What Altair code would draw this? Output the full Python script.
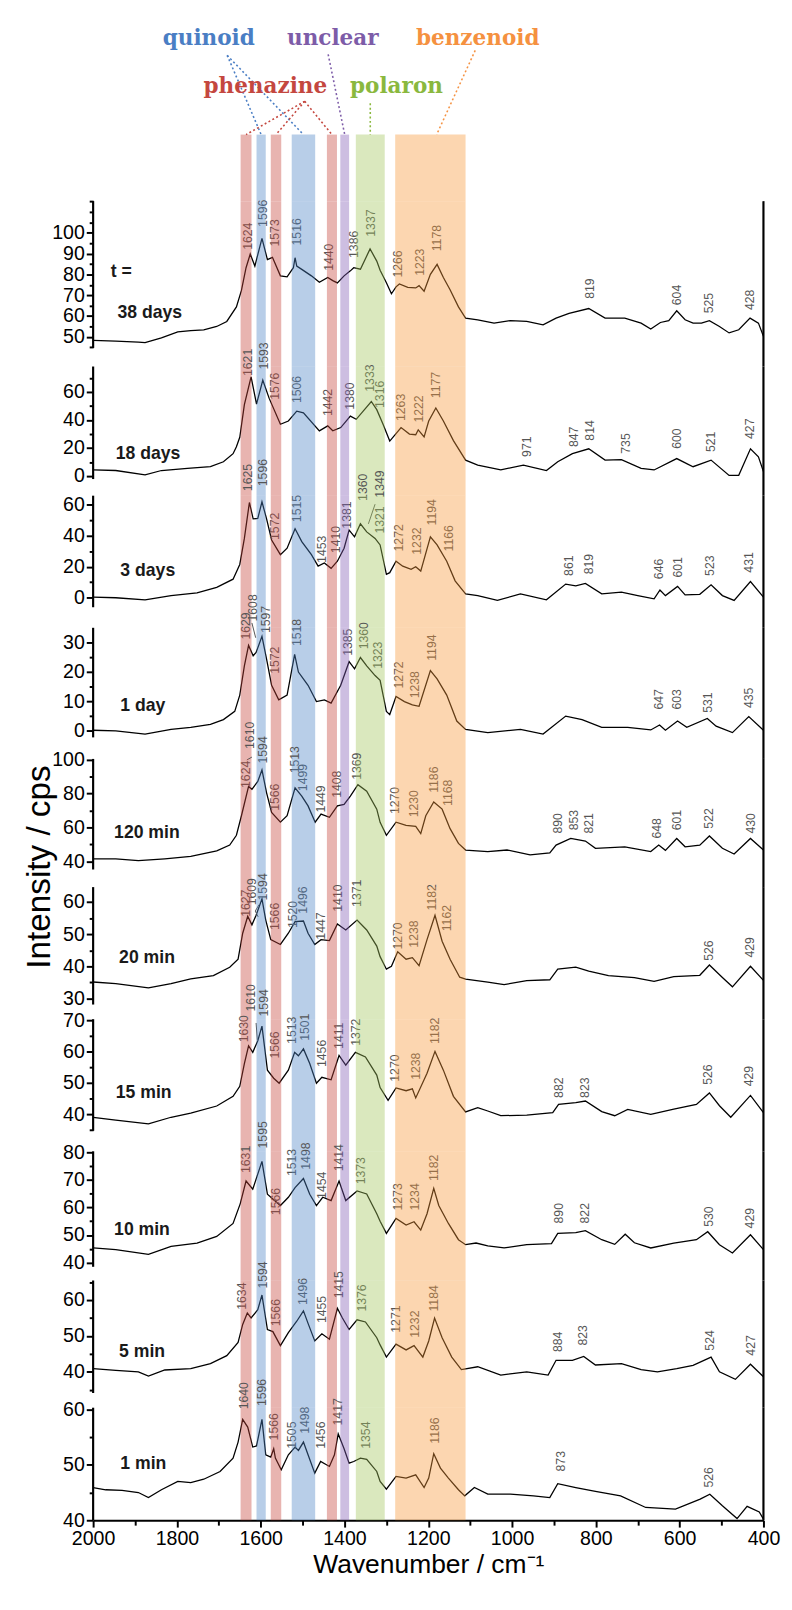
import altair as alt
import pandas as pd

# ------------------------------------------------------------------ data
panel_names = ["38 days", "18 days", "3 days", "1 day", "120 min",
               "20 min", "15 min", "10 min", "5 min", "1 min"]
name_x = [1942, 1946, 1935, 1935, 1950, 1938, 1946, 1950, 1938, 1935]
name_y = [61.3, 16, 17.2, 8.3, 56.4, 42.7, 46.8, 51.9, 45.5, 50.1]

# colour bands (cm-1)
band_lo = [1622, 1588, 1551, 1470, 1418, 1389, 1304, 1111]
band_hi = [1648, 1610, 1576, 1526, 1442, 1410, 1373, 1279]
band_kind = ["phenazine", "quinoid", "phenazine", "quinoid", "phenazine",
             "unclear", "polaron", "benzenoid"]

# category labels above the bands (y in annotation units above panel 1)
cat_text = ["quinoid", "unclear", "benzenoid", "phenazine", "polaron"]
cat_x = [1724, 1428, 1082, 1589, 1276]
cat_y = [167, 167, 167, 118, 118]
lead_kind = ["quinoid", "quinoid", "phenazine", "phenazine", "phenazine",
             "unclear", "polaron", "benzenoid"]
lead_x1 = [1680, 1680, 1495, 1495, 1495, 1439, 1338.5, 1088]
lead_y1 = [149, 149, 102, 102, 102, 150, 100, 154]
lead_x2 = [1599, 1498, 1635, 1563.5, 1430, 1399.5, 1338.5, 1180]
lead_y2 = [68, 68, 68, 68, 68, 68, 68, 68]
band_top = 68

# y-axis labelled range per panel
lab_min = [50, 0, 0, 0, 40, 30, 40, 40, 40, 40]
lab_max = [100, 60, 60, 30, 100, 60, 70, 80, 60, 60]

spec_38d = [(2000,48.3),(1946,48.0),(1892,47.5),(1876,47.2),(1837,49.5),(1798,52.4),(1767,53.0),(1736,53.4),(1705,55.0),(1681,57.4),(1658,64.4),(1646,72.3),(1635,83.2),(1625,89.8),(1614,84.0),(1597,97.3),(1584,87.1),(1572,88.2),(1553,79.3),(1537,78.8),(1522,83.2),(1518,88.0),(1514,84.0),(1502,82.4),(1479,79.3),(1460,76.2),(1440,78.5),(1428,77.0),(1417,75.9),(1401,79.3),(1386,81.7),(1378,83.2),(1362,82.5),(1339,92.2),(1323,86.4),(1315,82.0),(1300,76.0),(1288,70.7),(1277,74.0),(1269,75.4),(1249,73.8),(1230,73.5),(1222,74.6),(1210,71.9),(1195,80.0),(1179,84.8),(1164,78.5),(1148,72.6),(1128,64.4),(1111,59.0),(1082,58.2),(1043,56.6),(1004,57.8),(965,57.4),(926,55.8),(895,59.0),(864,61.3),(817,63.6),(778,59.0),(731,59.0),(692,56.6),(669,53.8),(646,56.9),(626,57.8),(607,62.5),(587,58.2),(568,56.6),(548,56.6),(529,57.8),(505,55.0),(482,51.9),(459,53.4),(432,59.0),(412,56.6),(400,50.3)]
spec_18d = [(2000,4.4),(1946,4.0),(1876,0.9),(1837,4.0),(1775,5.6),(1720,6.8),(1689,10.2),(1666,16.0),(1658,21.0),(1650,27.7),(1639,50.9),(1623,70.7),(1610,51.4),(1595,68.4),(1580,55.6),(1553,37.0),(1534,39.3),(1514,46.3),(1498,45.1),(1460,32.3),(1440,35.8),(1428,32.3),(1409,34.6),(1386,42.8),(1372,40.5),(1336,53.2),(1323,47.4),(1308,37.0),(1292,25.0),(1265,34.6),(1245,30.0),(1230,29.5),(1224,33.0),(1210,28.0),(1199,39.3),(1182,48.6),(1164,39.3),(1140,25.3),(1111,11.4),(1082,7.9),(1027,4.4),(973,7.9),(918,4.0),(891,10.2),(856,16.0),(817,19.5),(778,11.4),(739,11.7),(692,5.6),(661,4.4),(607,12.5),(568,6.7),(525,11.4),(482,0.5),(459,0.6),(431,19.5),(412,13.7),(400,3.3)]
spec_3d = [(2000,0.4),(1946,0.0),(1876,-1.3),(1814,1.4),(1752,3.1),(1705,6.7),(1666,12.0),(1650,21.5),(1639,38.3),(1627,61.5),(1618,50.9),(1607,51.2),(1597,61.9),(1586,50.9),(1574,37.3),(1553,27.8),(1537,32.0),(1518,44.6),(1502,36.2),(1479,27.8),(1463,20.4),(1448,22.5),(1432,19.0),(1417,23.6),(1401,32.0),(1389,43.6),(1376,39.3),(1362,47.7),(1347,42.5),(1327,38.3),(1315,34.1),(1300,15.1),(1292,16.2),(1277,23.6),(1261,20.4),(1241,18.3),(1230,20.0),(1218,17.2),(1195,39.3),(1179,34.1),(1156,23.6),(1136,10.9),(1111,2.5),(1082,1.4),(1035,-1.7),(980,2.5),(918,-1.3),(872,8.8),(848,7.7),(825,9.3),(786,2.5),(739,3.6),(700,1.4),(661,-0.7),(647,5.0),(634,1.4),(605,7.3),(587,1.8),(552,2.2),(525,8.4),(498,1.4),(470,-1.7),(431,10.5),(400,0.4)]
spec_1d = [(2000,0.2),(1946,0.0),(1876,-1.1),(1814,0.5),(1767,1.2),(1720,2.2),(1689,3.8),(1662,6.6),(1650,12.1),(1639,22.0),(1629,28.9),(1618,25.4),(1611,26.5),(1597,32.0),(1586,24.3),(1574,15.4),(1557,10.5),(1537,12.1),(1519,25.9),(1510,19.9),(1487,15.4),(1467,9.9),(1448,10.5),(1432,9.4),(1409,15.4),(1389,23.4),(1376,21.0),(1362,24.8),(1347,22.0),(1327,18.7),(1315,17.1),(1300,6.6),(1292,5.5),(1277,11.6),(1257,9.9),(1238,8.8),(1222,8.3),(1195,20.4),(1179,17.6),(1156,12.1),(1132,3.3),(1111,0.5),(1058,-0.6),(980,0.5),(926,-1.1),(872,5.0),(833,3.8),(786,1.2),(724,1.2),(669,0.3),(648,2.0),(634,0.2),(605,3.3),(583,1.2),(534,4.2),(513,1.6),(474,-0.6),(435,4.8),(400,0.2)]
spec_120m = [(2000,41.5),(1946,41.5),(1892,40.4),(1829,41.5),(1767,42.9),(1705,46.2),(1674,49.6),(1658,55.4),(1646,66.9),(1629,84.2),(1621,82.5),(1607,87.1),(1597,93.9),(1586,80.4),(1574,68.8),(1553,63.1),(1537,66.9),(1518,83.3),(1502,78.5),(1487,72.7),(1470,63.1),(1456,67.9),(1436,66.0),(1417,72.7),(1401,73.6),(1386,78.5),(1368,85.2),(1347,81.4),(1323,70.8),(1315,63.0),(1300,55.4),(1277,63.1),(1253,61.2),(1230,60.6),(1218,56.4),(1206,66.9),(1187,75.0),(1167,70.8),(1148,59.3),(1128,50.6),(1111,46.7),(1058,45.8),(1012,46.7),(957,43.9),(910,45.0),(895,49.6),(860,53.5),(825,52.0),(801,47.7),(731,48.6),(669,45.8),(650,49.6),(634,46.5),(607,53.5),(587,48.6),(552,49.6),(529,55.0),(498,47.7),(470,44.3),(431,53.5),(400,46.7)]
spec_20m = [(2000,35.1),(1946,34.6),(1868,33.3),(1814,34.6),(1767,36.1),(1713,37.1),(1674,39.7),(1654,42.2),(1643,50.3),(1631,55.6),(1621,52.9),(1611,55.9),(1597,61.0),(1588,54.4),(1576,48.3),(1553,46.8),(1534,50.3),(1518,53.9),(1498,54.1),(1487,50.3),(1471,46.8),(1456,48.3),(1436,48.0),(1417,53.2),(1397,51.3),(1370,54.4),(1347,51.3),(1323,46.3),(1315,43.0),(1300,39.1),(1288,40.0),(1273,44.5),(1253,42.2),(1238,42.7),(1222,40.2),(1203,48.3),(1184,55.9),(1167,47.8),(1148,42.2),(1125,36.6),(1111,36.0),(1058,35.1),(1019,34.3),(965,35.5),(910,35.8),(891,39.1),(848,39.7),(817,38.5),(770,37.1),(708,36.5),(661,35.3),(614,36.8),(552,37.2),(529,40.4),(498,36.5),(474,33.6),(431,40.0),(400,35.6)]
spec_15m = [(2000,39.0),(1946,38.1),(1868,36.9),(1814,39.0),(1767,40.3),(1705,42.6),(1666,45.7),(1650,48.9),(1639,56.2),(1629,61.9),(1619,59.8),(1607,63.5),(1597,68.2),(1584,54.1),(1569,51.5),(1556,49.9),(1534,54.1),(1519,59.8),(1510,58.7),(1498,60.9),(1483,56.2),(1467,49.9),(1454,51.8),(1432,51.0),(1413,58.8),(1397,55.7),(1374,59.8),(1350,58.3),(1323,52.5),(1315,48.5),(1296,44.4),(1277,48.4),(1253,47.5),(1238,48.1),(1230,45.2),(1203,53.1),(1184,60.1),(1164,54.1),(1140,45.7),(1111,40.7),(1082,42.1),(1058,41.0),(1027,39.5),(965,39.7),(903,40.5),(889,43.1),(848,43.7),(825,44.2),(786,40.8),(755,39.5),(724,41.5),(669,39.9),(614,41.6),(560,43.1),(529,46.8),(505,42.7),(478,39.0),(431,46.0),(400,40.5)]
spec_10m = [(2000,45.3),(1946,44.7),(1868,43.0),(1814,45.9),(1752,47.1),(1705,49.5),(1666,54.2),(1649,61.3),(1635,69.6),(1619,66.6),(1597,76.7),(1584,64.8),(1571,63.1),(1553,60.7),(1534,63.7),(1518,67.2),(1498,70.5),(1483,64.8),(1467,60.7),(1452,63.7),(1432,62.5),(1413,69.6),(1397,62.5),(1370,66.0),(1347,64.9),(1323,57.7),(1315,55.0),(1300,50.6),(1277,56.0),(1253,53.6),(1234,54.8),(1218,51.8),(1203,57.7),(1187,66.9),(1175,60.7),(1152,54.2),(1128,48.3),(1111,46.5),(1086,47.1),(1058,46.1),(1019,45.3),(965,46.5),(906,46.9),(891,50.6),(848,50.9),(825,51.6),(786,48.3),(755,46.6),(730,50.3),(708,47.2),(669,45.3),(614,47.1),(560,48.3),(533,51.2),(505,46.5),(474,43.5),(431,50.1),(400,44.7)]
spec_5m = [(2000,40.9),(1946,40.4),(1892,40.0),(1868,38.8),(1829,40.5),(1767,40.9),(1720,42.3),(1681,44.5),(1654,48.2),(1643,53.2),(1632,56.4),(1623,55.0),(1607,57.3),(1597,61.4),(1584,51.8),(1571,51.2),(1553,47.3),(1534,50.9),(1514,54.1),(1498,57.0),(1487,53.5),(1471,48.6),(1454,50.6),(1436,49.1),(1417,57.7),(1405,55.0),(1389,51.8),(1370,54.5),(1350,53.9),(1323,49.5),(1315,47.5),(1300,44.1),(1277,47.7),(1253,46.1),(1234,47.3),(1213,44.1),(1199,48.6),(1185,55.0),(1167,49.5),(1144,44.1),(1121,40.6),(1082,41.4),(1027,39.1),(965,40.0),(914,39.1),(895,43.2),(856,43.2),(829,44.3),(801,41.9),(739,42.3),(692,40.6),(653,40.0),(607,40.9),(568,41.8),(525,44.1),(505,40.0),(467,37.9),(431,42.1),(400,38.6)]
spec_1m = [(2000,45.9),(1970,45.5),(1931,45.4),(1892,45.0),(1868,44.1),(1837,45.5),(1798,47.0),(1767,46.8),(1736,47.4),(1697,48.8),(1666,51.2),(1654,54.1),(1643,58.2),(1631,56.8),(1619,53.2),(1610,53.4),(1597,58.2),(1588,51.8),(1576,51.4),(1569,52.9),(1565,51.2),(1551,49.1),(1534,51.8),(1518,53.2),(1510,52.6),(1498,54.1),(1487,51.8),(1471,48.5),(1457,50.6),(1436,49.7),(1424,51.8),(1415,55.6),(1401,52.9),(1389,50.3),(1378,50.6),(1362,51.2),(1347,51.0),(1323,48.8),(1315,47.0),(1300,45.6),(1277,47.9),(1253,47.6),(1230,48.2),(1210,45.9),(1199,47.6),(1187,52.0),(1171,49.4),(1152,47.6),(1128,45.5),(1113,44.4),(1090,45.9),(1058,44.7),(1004,44.7),(949,44.4),(910,44.1),(891,46.6),(848,45.9),(801,45.2),(741,44.4),(681,42.3),(610,42.0),(551,43.8),(528,44.7),(498,42.6),(463,40.3),(439,42.5),(410,41.5),(400,40.2)]

# peak labels: (text, x position cm-1, y of label start)
peaks_38d = [("1624",1631,91.8),("1596",1593.5,102.8),("1573",1565,93.4),("1516",1514,93.9),("1440",1436,81.7),("1386",1376,87.9),("1337",1337,98.1),("1266",1273,78.5),("1223",1220,79.3),("1178",1179,91.1),("819",813,68.3),("604",605,65.2),("525",529,61.3),("428",431.5,62.9)]
peaks_18d = [("1621",1631,71.4),("1593",1592,76),("1576",1565,54.4),("1506",1512,52.1),("1442",1438,42.8),("1380",1386,47.4),("1333",1339,60.2),("1316",1316,48.6),("1263",1265,39.3),("1222",1222,38.2),("1177",1181,55.6),("971",965,13.7),("847",852,20.7),("814",813,25.3),("735",727,16),("600",605,19.5),("521",525,17.2),("427",431.5,26.5)]
peaks_3d = [("1625",1631,68.8),("1596",1593.5,72),("1572",1565,37.3),("1515",1514,48.8),("1453",1454,22.5),("1410",1420.6,28.8),("1381",1393,44.6),("1360",1356,62.5),("1349",1315,64.6),("1321",1315,41.4),("1272",1269,29.9),("1232",1226,27.8),("1194",1191,46.7),("1166",1150,29.9),("861",864,14.1),("819",817,15.1),("646",650,12),("601",603,13),("523",527,14.1),("431",435,16.2)]
peaks_1d = [("1629",1635,30.9),("1608",1618,37),("1597",1588,33.1),("1572",1565,19.3),("1518",1514,28.7),("1385",1392,25.4),("1360",1354,27.6),("1323",1319,21),("1272",1269,14.3),("1238",1231,11),("1194",1191,23.7),("647",650,7.2),("603",605,7.2),("531",533,6.1),("435",435,7.7)]
peaks_120m = [("1624",1636,83.3),("1610",1625,106.3),("1594",1593.5,97.7),("1566",1565,69.8),("1513",1518,91.9),("1499",1498.5,81.4),("1449",1456,68.8),("1408",1417,77.5),("1369",1370,88.1),("1270",1280,67.9),("1230",1234,66),("1186",1187,80.4),("1168",1152,72.7),("890",891,56.4),("853",852,58.3),("821",817,56.4),("648",655,53.5),("601",607,58.3),("522",529,59.3),("430",429,56.4)]
peaks_20m = [("1627",1636,55.4),("1609",1621,59),("1594",1593.5,60.5),("1566",1565,51.3),("1520",1522,51.9),("1496",1498.5,56.4),("1447",1456,48.3),("1410",1415,57),("1371",1370,58.5),("1270",1273,45.2),("1238",1234,45.8),("1182",1191,57.4),("1162",1156,50.9),("526",529,41.7),("429",431.5,42.7)]
peaks_15m = [("1630",1639,63),("1610",1623,72.9),("1594",1592,71.3),("1566",1565,57.8),("1513",1524,62.5),("1501",1493,63.5),("1456",1454,55.1),("1411",1413,60.9),("1372",1372,61.9),("1270",1280,50.4),("1238",1230,51),("1182",1183,62.5),("882",887,45.2),("823",825,45.2),("526",533,49.4),("429",435,48.9)]
peaks_10m = [("1631",1635,72.5),("1595",1593.5,81.4),("1566",1563,57.2),("1513",1524,71.4),("1498",1491,73.7),("1454",1454,63.1),("1414",1413,73.1),("1373",1361,68.4),("1273",1273,58.9),("1234",1231,58.9),("1182",1187,69.6),("890",887,54.2),("822",825,54.2),("530",529,53),("429",431.5,52.4)]
peaks_5m = [("1634",1644,57.3),("1594",1593.5,63.2),("1566",1563,52.7),("1496",1498.5,58.6),("1455",1454,53.6),("1415",1413,60.5),("1376",1358,56.8),("1271",1277,50.9),("1232",1231,49.5),("1184",1185,56.8),("884",891,45.5),("823",831,47.3),("524",527,45.9),("427",429,44.5)]
peaks_1m = [("1640",1639,60),("1596",1596,60.6),("1566",1567,54.4),("1505",1526,52.9),("1498",1493,55.6),("1456",1456,52.9),("1417",1415,57.1),("1354",1348,52.9),("1186",1183,53.8),("873",883,48.8),("526",529,45.9)]

# short connector strokes next to crowded peak labels: (panel, x1, y1, x2, y2)
connectors = [(2, 1343, 47.7, 1327, 60.4),
              (3, 1621, 36.5, 1612, 31.5),
              (4, 1633, 99.8, 1621, 101.5),
              (5, 1604, 59.2, 1613, 57.2), (5, 1613, 57.2, 1606, 55.4),
              (6, 1611, 69.2, 1608, 63.5)]

spectra = [spec_38d, spec_18d, spec_3d, spec_1d, spec_120m,
           spec_20m, spec_15m, spec_10m, spec_5m, spec_1m]
peaks = [peaks_38d, peaks_18d, peaks_3d, peaks_1d, peaks_120m,
         peaks_20m, peaks_15m, peaks_10m, peaks_5m, peaks_1m]

# ------------------------------------------------------------------ layout / style
KINDS = ["phenazine", "quinoid", "unclear", "polaron", "benzenoid"]
BAND_FILL = ["#c5433a", "#4e84c5", "#825cb4", "#a2c55c", "#f8983a"]
CAT_COLOR = ["#c4473f", "#4a7ec4", "#7d5ca8", "#8ab83e", "#f59140"]
SANS = "Liberation Sans"
PLOT_W = 685
SHIFT = 4
SLOT_TOP = [192, 361, 493, 628, 762, 893, 1028, 1163, 1295, 1425]
SLOT_BOT = SLOT_TOP[1:] + [1540]
AXIS_BOT = [342, 476, 607, 740, 875, 1013, 1142, 1281, 1410, 1540]
CAL = [((224.3, 100), (330.7, 50)), ((387, 60), (473, 0)), ((502.3, 60), (597.3, 0)),
       ((642.7, 30), (733.3, 0)), ((762.7, 100), (866.7, 40)), ((908.3, 60), (1006.7, 30)),
       ((1029.3, 70), (1125, 40)), ((1164, 80), (1276.7, 40)), ((1315, 60), (1388.3, 40)),
       ((1426.7, 60), (1540, 40))]
MAJOR = [10, 20, 20, 10, 20, 10, 10, 10, 10, 10]
MINOR = [5, 10, 10, 5, 10, 5, 5, 5, 5, 5]

xscale = alt.Scale(domain=[400, 2000], reverse=True, nice=False, zero=False)
fill_scale = alt.Scale(domain=KINDS, range=BAND_FILL)
col_scale = alt.Scale(domain=KINDS, range=CAT_COLOR)

bands_df = pd.DataFrame({"lo": band_lo, "hi": band_hi, "kind": band_kind,
                         "top": band_top, "bot": 0})

# ---- top annotation chart
TOP_H = SLOT_TOP[0] - 8 - SHIFT
ytop = alt.Scale(domain=[0, TOP_H], nice=False, zero=False)
cat_df = pd.DataFrame({"t": cat_text, "x": cat_x, "y": cat_y})
cat_df["kind"] = cat_df["t"]
lead_df = pd.DataFrame({"kind": lead_kind, "x": lead_x1, "y": lead_y1,
                        "x2": lead_x2, "y2": lead_y2})

top_bands = alt.Chart(bands_df).mark_rect(opacity=0.4).encode(
    x=alt.X("lo:Q", scale=xscale, axis=None), x2="hi:Q",
    y=alt.Y("top:Q", scale=ytop, axis=None), y2="bot:Q",
    fill=alt.Fill("kind:N", scale=fill_scale, legend=None))
top_lead = alt.Chart(lead_df).mark_rule(strokeDash=[2, 2.5], strokeWidth=1.6).encode(
    x=alt.X("x:Q", scale=xscale, axis=None), x2="x2:Q",
    y=alt.Y("y:Q", scale=ytop, axis=None), y2="y2:Q",
    color=alt.Color("kind:N", scale=col_scale, legend=None))
top_text = alt.Chart(cat_df).mark_text(font="DejaVu Serif", fontWeight="bold", fontSize=22,
                                       align="center", baseline="middle").encode(
    x=alt.X("x:Q", scale=xscale, axis=None),
    y=alt.Y("y:Q", scale=ytop, axis=None),
    text="t:N",
    color=alt.Color("kind:N", scale=col_scale, legend=None))
top_chart = alt.layer(top_bands, top_lead, top_text).properties(width=PLOT_W, height=TOP_H)


def val_at(i, p):
    (p1, v1), (p2, v2) = CAL[i]
    return v1 + (p - p1) * (v2 - v1) / (p2 - p1)


def make_panel(i):
    lo = val_at(i, SLOT_BOT[i])
    hi = val_at(i, SLOT_TOP[i])
    ax_lo = val_at(i, AXIS_BOT[i])
    yscale = alt.Scale(domain=[lo, hi], nice=False, zero=False)
    mn, mj = MINOR[i], MAJOR[i]
    start = int(-(-ax_lo // mn)) * mn
    ticks = []
    t = start
    while t <= hi + 1e-6:
        ticks.append(t)
        t += mn
    is_major = (f"datum.value % {mj} === 0 && datum.value >= {lab_min[i]} "
                f"&& datum.value <= {lab_max[i]}")
    yaxis_kw = dict(values=ticks, domain=False, grid=False,
                    labelExpr=f"{is_major} ? datum.label : ''",
                    tickSize={"condition": {"test": is_major, "value": 7}, "value": 4},
                    tickWidth=2, tickColor="black", labelFont=SANS, labelFontSize=20,
                    labelColor="black", labelPadding=2, labelOverlap=False, labelFlush=False)
    if i == 4:
        yaxis_kw.update(title="Intensity / cps", titleFont=SANS, titleFontSize=34,
                        titleFontWeight="normal", titleColor="black", titleX=-45,
                        titleY=110, titleAngle=270, titleBaseline="alphabetic")
    else:
        yaxis_kw.update(title=None)
    yaxis = alt.Axis(**yaxis_kw)
    if i == 9:
        xaxis = alt.Axis(values=list(range(400, 2001, 100)), format="d",
                         labelExpr="datum.value % 200 === 0 ? datum.label : ''",
                         tickSize={"condition": {"test": "datum.value % 200 === 0", "value": 7}, "value": 5},
                         tickWidth=2, tickColor="black", domainColor="black", domainWidth=2.2,
                         labelFont=SANS, labelFontSize=20, labelColor="black", labelPadding=2,
                         labelFlush=False, labelOverlap=False, grid=False,
                         title="Wavenumber / cm\u207b\u00b9", titleFont=SANS, titleFontSize=27,
                         titleFontWeight="normal", titleColor="black", titlePadding=3)
    else:
        xaxis = None

    X = lambda f: alt.X(f, scale=xscale, axis=xaxis)
    Y = lambda f: alt.Y(f, scale=yscale, axis=yaxis)

    sdf = pd.DataFrame(spectra[i], columns=["w", "v"])
    pdf = pd.DataFrame(peaks[i], columns=["t", "w", "v"])
    ndf = pd.DataFrame({"t": [panel_names[i]], "w": [name_x[i]], "v": [name_y[i]]})
    if i == 0:
        ndf = pd.concat([ndf, pd.DataFrame({"t": ["t ="], "w": [1958], "v": [80.9]})])
    adf = pd.DataFrame({"w": [2000], "v": [ax_lo], "v2": [hi]})
    rdf = pd.DataFrame({"w": [400]})
    cdf = pd.DataFrame([c[1:] for c in connectors if c[0] == i],
                       columns=["w", "v", "w2", "v2"])

    line = alt.Chart(sdf).mark_line(color="black", strokeWidth=1.3).encode(
        x=X("w:Q"), y=Y("v:Q"))
    plab = alt.Chart(pdf).mark_text(angle=270, align="left", baseline="middle",
                                    font=SANS, fontSize=12.5, color="#555555").encode(
        x=X("w:Q"), y=Y("v:Q"), text="t:N")
    nlab = alt.Chart(ndf).mark_text(align="left", baseline="middle", font=SANS,
                                    fontSize=18, fontWeight="bold", color="#1a1a1a").encode(
        x=X("w:Q"), y=Y("v:Q"), text="t:N")
    bands = alt.Chart(bands_df).mark_rect(opacity=0.4).encode(
        x=X("lo:Q"), x2="hi:Q",
        fill=alt.Fill("kind:N", scale=fill_scale, legend=None))
    yrule = alt.Chart(adf).mark_rule(color="black", strokeWidth=2.2).encode(
        x=X("w:Q"), y=Y("v:Q"), y2="v2:Q")
    rrule = alt.Chart(rdf).mark_rule(color="black", strokeWidth=2.2).encode(x=X("w:Q"))
    layers = [line, plab, nlab]
    if len(cdf):
        layers.append(alt.Chart(cdf).mark_rule(color="#555555", strokeWidth=1).encode(
            x=X("w:Q"), y=Y("v:Q"), x2="w2:Q", y2="v2:Q"))
    layers += [bands, yrule, rrule]
    return alt.layer(*layers).properties(width=PLOT_W, height=SLOT_BOT[i] - SLOT_TOP[i])


panels_ch = [make_panel(i) for i in range(10)]
chart = alt.vconcat(top_chart, *panels_ch, spacing=0, bounds="flush").resolve_scale(
    x="independent", y="independent").configure_view(stroke=None).properties(
    padding={"left": 14, "top": 0, "right": 4, "bottom": 0})

chart.save("out.html", embed_options={"renderer": "svg", "actions": False})
